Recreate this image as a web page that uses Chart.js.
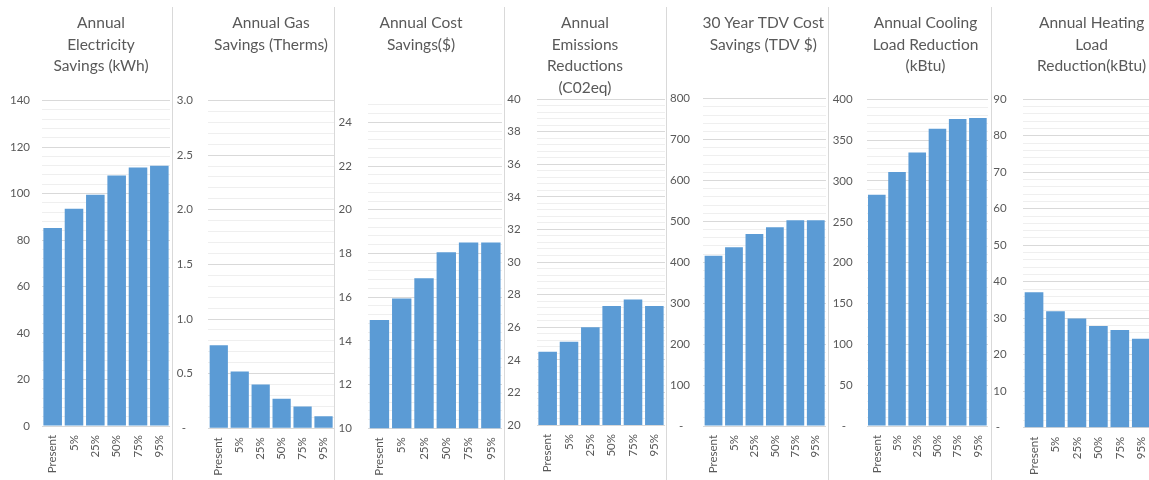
<!DOCTYPE html>
<html>
<head>
<meta charset="utf-8">
<title>Savings and load reductions by scenario</title>
<script src="https://cdn.jsdelivr.net/npm/chart.js@4.4.1/dist/chart.umd.min.js"></script>
<style>
  html, body { margin: 0; padding: 0; background: #fff; overflow: hidden; }
  #wrap { position: relative; width: 1149px; height: 480px; overflow: hidden; }
  #wrap canvas { position: absolute; top: 0; }
  .sep { position: absolute; top: 7px; height: 473px; width: 1px; background: #d9d9d9; z-index: 2; }
</style>
</head>
<body>
<div id="wrap"></div>
<script>
// Scenario categories shared by every panel
const categories = ['Present', '5%', '25%', '50%', '75%', '95%'];

// Series values, one list per panel
const electricitySavings = [85.2, 93.4, 99.5, 107.7, 111.2, 111.9];
const gasSavings = [0.76, 0.52, 0.40, 0.27, 0.20, 0.11];
const costSavings = [14.96, 15.94, 16.87, 18.06, 18.5, 18.5];
const emissionsReductions = [24.5, 25.1, 26.0, 27.3, 27.7, 27.3];
const tdvCostSavings = [416, 437, 469, 486, 503, 503];
const coolingLoadReduction = [283, 311, 335, 364, 376, 377];
const heatingLoadReduction = [37.1, 31.9, 29.9, 27.9, 26.8, 24.4];

// Panel titles (one entry per line)
const electricityTitle = ['Annual', 'Electricity', 'Savings (kWh)'];
const gasTitle = ['Annual Gas', 'Savings (Therms)'];
const costTitle = ['Annual Cost', 'Savings($)'];
const emissionsTitle = ['Annual', 'Emissions', 'Reductions', '(C02eq)'];
const tdvTitle = ['30 Year TDV Cost', 'Savings (TDV $)'];
const coolingTitle = ['Annual Cooling', 'Load Reduction', '(kBtu)'];
const heatingTitle = ['Annual Heating', 'Load', 'Reduction(kBtu)'];

// Value axes: [min, max, major step, decimals, label for zero]
const electricityAxis = [0, 140, 20, 0, '0'];
const gasAxis = [0, 3, 0.5, 1, '-\u2007'];
const costAxis = [10, 25, 2, 0, '10'];
const emissionsAxis = [20, 40, 2, 0, '20'];
const tdvAxis = [0, 800, 100, 0, '-\u2007'];
const coolingAxis = [0, 400, 50, 0, '-\u2007'];
const heatingAxis = [0, 90, 10, 0, '-\u2007'];

// Panel placement: page left, canvas width, plot left, plot top, plot bottom, label gap, title centre
const panels = [
  { title: electricityTitle, values: electricitySavings, axis: electricityAxis, left: 0,   width: 170, plotLeft: 42,   top: 100.5, bottom: 426,   gap: 12, titleX: 101 },
  { title: gasTitle,         values: gasSavings,         axis: gasAxis,         left: 172, width: 162, plotLeft: 36.3, top: 100.5, bottom: 428.3, gap: 15.5, titleX: 99 },
  { title: costTitle,        values: costSavings,        axis: costAxis,        left: 334, width: 168, plotLeft: 34.3, top: 100.5, bottom: 428.3, gap: 16.5, titleX: 87 },
  { title: emissionsTitle,   values: emissionsReductions,axis: emissionsAxis,   left: 504, width: 161, plotLeft: 33,   top: 99,    bottom: 425,   gap: 16.3, titleX: 81 },
  { title: tdvTitle,         values: tdvCostSavings,     axis: tdvAxis,         left: 665, width: 161, plotLeft: 38.3, top: 98.7,  bottom: 426,   gap: 13.3, titleX: 98.3 },
  { title: coolingTitle,     values: coolingLoadReduction,axis: coolingAxis,    left: 828, width: 160, plotLeft: 38.7, top: 99.3,  bottom: 426,   gap: 14,   titleX: 97.5 },
  { title: heatingTitle,     values: heatingLoadReduction,axis: heatingAxis,    left: 991, width: 161, plotLeft: 32.3, top: 99.3,  bottom: 427.7, gap: 16.6, titleX: 100.6 }
];

const separators = [172, 334, 503.5, 665.5, 828, 991];

const BAR = '#5B9BD5';
const TEXT = '#595959';
const MAJOR_GRID = '#d9d9d9';
const MINOR_GRID = '#efefef';
const FONT = 'Lato, "Open Sans", sans-serif';

function titlePlugin(lines, x) {
  return {
    id: 'panelTitle',
    afterDraw(chart) {
      const ctx = chart.ctx;
      ctx.save();
      ctx.font = '15.5px ' + FONT;
      ctx.fillStyle = TEXT;
      ctx.textAlign = 'center';
      ctx.textBaseline = 'middle';
      lines.forEach((t, i) => ctx.fillText(t, x, 23 + i * 21.6));
      ctx.restore();
    }
  };
}

function build() {
  const wrap = document.getElementById('wrap');

  separators.forEach(x => {
    const d = document.createElement('div');
    d.className = 'sep';
    d.style.left = x + 'px';
    wrap.appendChild(d);
  });

  panels.forEach(p => {
    const [min, max, major, decimals, zeroLabel] = p.axis;
    const minor = major / 5;
    const nMinor = Math.floor((max - min) / minor + 1e-6);
    const isMajor = v => {
      const k = (v - min) / major;
      return Math.abs(k - Math.round(k)) < 1e-6;
    };

    const canvas = document.createElement('canvas');
    canvas.width = p.width;
    canvas.height = 480;
    canvas.style.left = p.left + 'px';
    wrap.appendChild(canvas);

    new Chart(canvas, {
      type: 'bar',
      data: {
        labels: categories,
        datasets: [{
          data: p.values,
          backgroundColor: BAR,
          borderWidth: 0,
          barPercentage: 0.87,
          categoryPercentage: 1.0
        }]
      },
      options: {
        responsive: false,
        animation: false,
        devicePixelRatio: 1,
        layout: { padding: { top: p.top, left: 0, right: 0, bottom: 0 } },
        plugins: { legend: { display: false }, tooltip: { enabled: false }, title: { display: false } },
        scales: {
          x: {
            type: 'category',
            grid: { display: false, drawTicks: false },
            border: { display: false },
            ticks: {
              autoSkip: false,
              minRotation: 90,
              maxRotation: 90,
              padding: 9,
              color: TEXT,
              font: { family: FONT, size: 11.5 }
            },
            afterFit(scale) {
              scale.height = 480 - p.bottom;
              scale.paddingLeft = 0;
              scale.paddingRight = 0;
            }
          },
          y: {
            min: min,
            max: max,
            grid: {
              drawTicks: false,
              color: ctx => isMajor(ctx.tick.value) ? MAJOR_GRID : MINOR_GRID,
              lineWidth: 1
            },
            border: { display: false },
            afterBuildTicks(scale) {
              const ticks = [];
              for (let i = 0; i <= nMinor; i++) ticks.push({ value: +(min + i * minor).toFixed(6) });
              scale.ticks = ticks;
            },
            ticks: {
              autoSkip: false,
              padding: p.gap,
              color: TEXT,
              font: { family: FONT, size: 11.5 },
              callback(v) {
                if (!isMajor(v)) return '';
                if (Math.abs(v) < 1e-9) return zeroLabel;
                return v.toFixed(decimals);
              }
            },
            afterFit(scale) {
              scale.width = p.plotLeft;
              scale.paddingTop = 0;
              scale.paddingBottom = 0;
            }
          }
        }
      },
      plugins: [titlePlugin(p.title, p.titleX)]
    });
  });
}

if (document.fonts && document.fonts.load) {
  Promise.all([document.fonts.load('15.5px Lato'), document.fonts.load('11.5px Lato')])
    .then(build, build);
} else {
  build();
}
</script>
</body>
</html>
